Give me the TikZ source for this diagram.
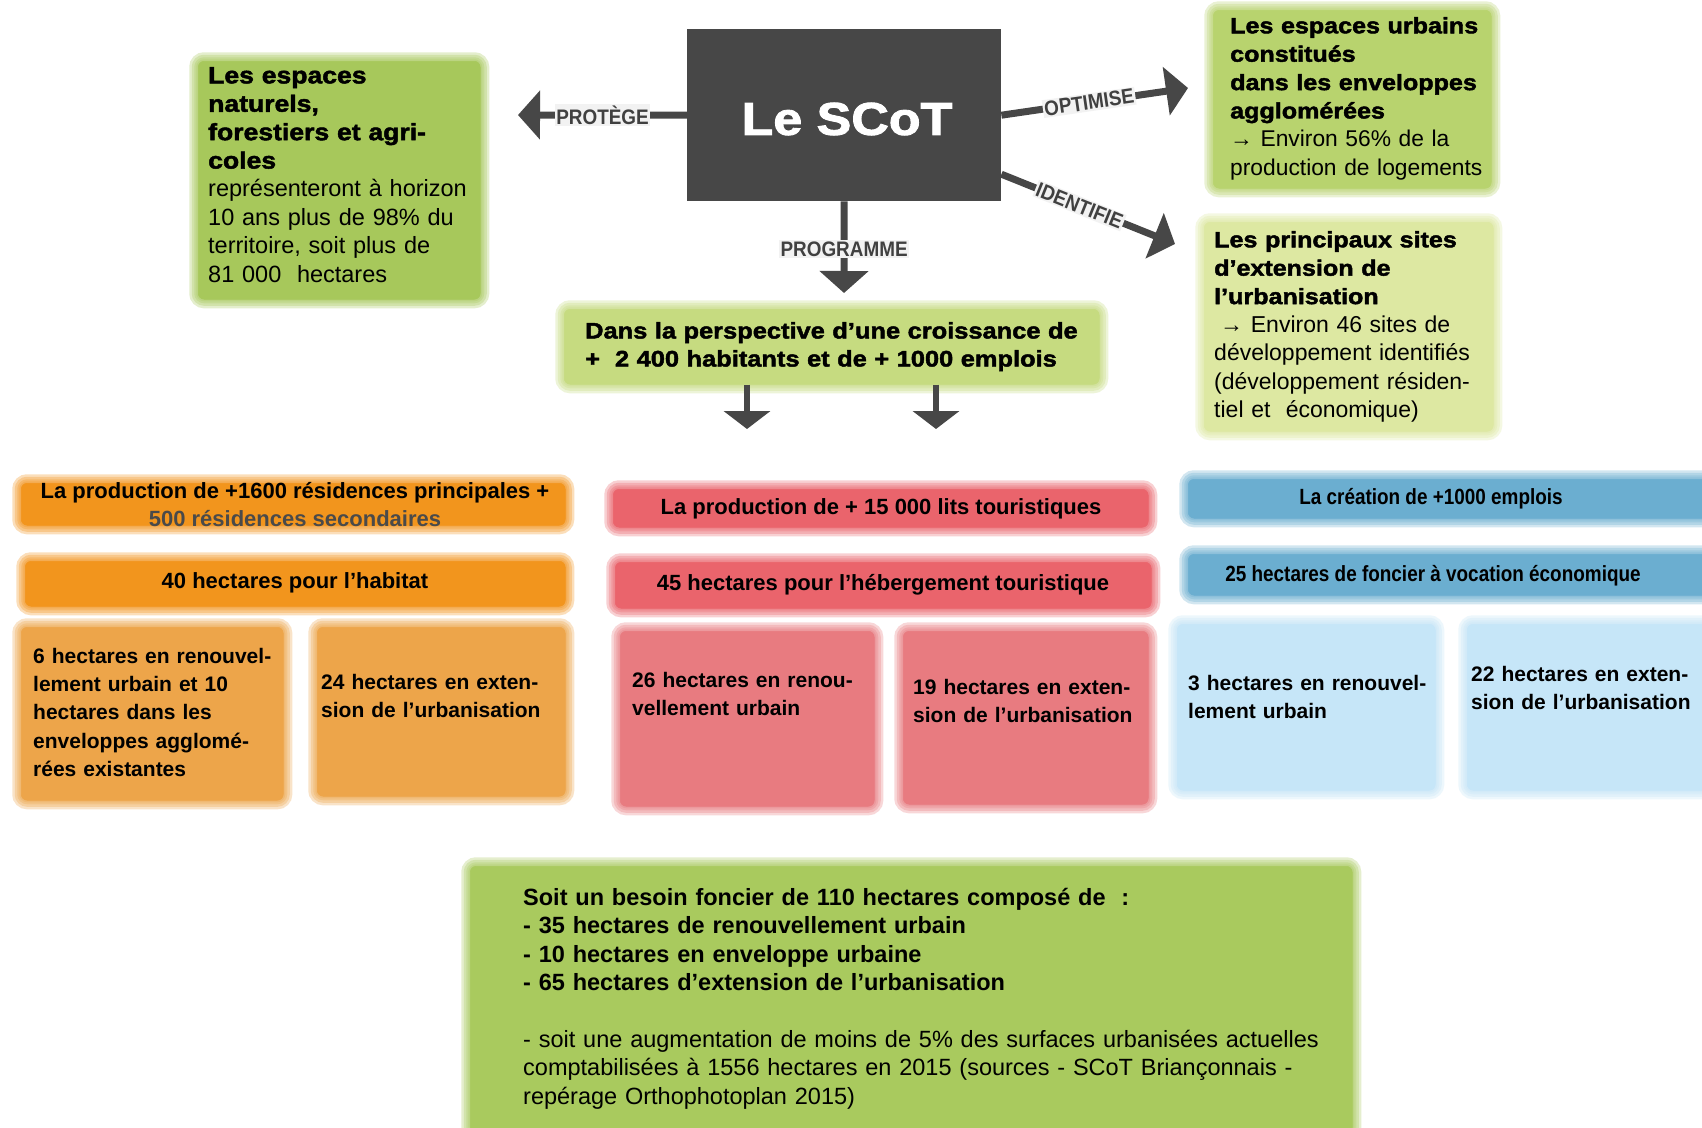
\documentclass[tikz,border=0pt]{standalone}
\usepackage{fontspec}
\setmainfont{Liberation Sans}
\newfontfamily\blk{Liberation Sans}[FakeStretch=1.13,BoldFeatures={FakeBold=2}]
\newfontfamily\nar{Liberation Sans}[FakeStretch=0.86]
\newfontfamily\lab{Liberation Sans}[FakeStretch=0.9]
\usetikzlibrary{arrows.meta}
\newcommand\setfs[2]{\fontsize{#1}{#2}\selectfont}
\definecolor{scot}{HTML}{474747}
\definecolor{grnL}{HTML}{A7C85B}
\definecolor{grnB}{HTML}{A9CA5E}
\definecolor{grnRT}{HTML}{B8D36E}
\definecolor{grnR2}{HTML}{DDE8A2}
\definecolor{grnM}{HTML}{C6DB80}
\definecolor{orH}{HTML}{F2951D}
\definecolor{orC}{HTML}{EDA54A}
\definecolor{rdH}{HTML}{EA646C}
\definecolor{rdC}{HTML}{E87B80}
\definecolor{blH}{HTML}{6BAED0}
\definecolor{blC}{HTML}{C6E6F8}
\definecolor{lblbg}{HTML}{F2F2F2}
\definecolor{lbltext}{HTML}{404040}
\definecolor{txtgray}{HTML}{4A4A4A}
\begin{document}
\begin{tikzpicture}[x=1pt,y=-1pt,
  soft/.style={fill=#1, draw=#1, line width=0.5pt, rounded corners=6pt, inner sep=0pt, anchor=north west,
    preaction={draw=#1, draw opacity=0.3, line width=18pt},
    preaction={draw=#1, draw opacity=0.3, line width=13pt},
    preaction={draw=#1, draw opacity=0.3, line width=8pt},
    preaction={draw=#1, draw opacity=0.3, line width=4pt}},
  txt/.style={anchor=north west, inner sep=0pt, align=left, text width=#1},
  arr/.style={draw=scot, line width=7pt, -{Triangle[length=22pt,width=48pt]}},
  arrsmall/.style={draw=scot, line width=6pt, -{Triangle[length=18pt,width=46pt]}},
  lbl/.style={fill=lblbg, inner sep=1.5pt, text=lbltext, font=\lab\bfseries\setfs{21}{24}},
  hdr/.style={font=\bfseries\setfs{22}{28}, align=center, inner sep=0pt},
  cell/.style={txt=#1, font=\bfseries\setfs{21}{28.2}},
]
\useasboundingbox[fill=white] (0,0) rectangle (1702,1127);

% ---------- boxes ----------
\node[soft=grnL, minimum width=282pt, minimum height=238pt] (natbox) at (198,61) {};
\node[soft=grnRT, minimum width=278pt, minimum height=178pt] (urbbox) at (1213,10) {};
\node[soft=grnR2, minimum width=289pt, minimum height=209pt] (sitbox) at (1204,222) {};
\node[soft=grnM, minimum width=535pt, minimum height=75pt] (midbox) at (564,309) {};
\node[fill=scot, minimum width=314pt, minimum height=172pt, anchor=north west, inner sep=0pt] (scot) at (687,29) {};

\node[soft=orH, minimum width=544pt, minimum height=42pt] (oh1) at (21,483) {};
\node[soft=orH, minimum width=540pt, minimum height=45pt] (oh2) at (25,561) {};
\node[soft=orC, minimum width=262pt, minimum height=173pt] (oc1) at (21,627) {};
\node[soft=orC, minimum width=248pt, minimum height=169pt] (oc2) at (317,627) {};

\node[soft=rdH, minimum width=535pt, minimum height=38pt] (rh1) at (613,489) {};
\node[soft=rdH, minimum width=536pt, minimum height=46pt] (rh2) at (615,562) {};
\node[soft=rdC, minimum width=254pt, minimum height=175pt] (rc1) at (620,631) {};
\node[soft=rdC, minimum width=245pt, minimum height=173pt] (rc2) at (903,631) {};

\node[soft=blH, minimum width=530pt, minimum height=39pt] (bh1) at (1188,479) {};
\node[soft=blH, minimum width=530pt, minimum height=41pt] (bh2) at (1188,554) {};
\node[soft=blC, minimum width=258pt, minimum height=166pt] (bc1) at (1177,624) {};
\node[soft=blC, minimum width=250pt, minimum height=166pt] (bc2) at (1467,624) {};

\node[soft=grnB, minimum width=882pt, minimum height=272pt] (botbox) at (470,866) {};

% ---------- arrows ----------
\coordinate (tipP) at (518,115);
\coordinate (tipG) at (844,293);
\coordinate (tipO) at (1188,88);
\coordinate (tipI) at (1175,244);
\coordinate (d1e) at (747,429);
\coordinate (d2e) at (936,429);

\draw[arr] (scot.west) -- node[lbl, pos=0.5] (lprot) {PROTÈGE} (tipP);
\draw[arr] (scot.south) -- node[lbl, pos=0.52] (lprog) {PROGRAMME} (tipG);
\draw[arr] (scot.east) -- node[lbl, sloped, pos=0.47] (lopt) {OPTIMISE} (tipO);
\draw[arr] ([yshift=-59pt]scot.east) -- node[lbl, sloped, pos=0.45] (lid) {IDENTIFIE} (tipI);
\draw[arrsmall] (midbox.south -| d1e) -- (d1e);
\draw[arrsmall] (midbox.south -| d2e) -- (d2e);

% ---------- texts ----------
\node[text=white, font=\blk\bfseries\setfs{46}{50}, inner sep=0pt] (scottxt) at (847,119) {Le SCoT};

\node[txt=280pt, font=\setfs{23.5}{28.4}] (nattxt) at (208,67)
  {{\blk\bfseries Les espaces\\naturels,\\forestiers et agri-\\coles}\\représenteront à horizon\\10 ans plus de 98\% du\\territoire, soit plus de\\81 000\ \ hectares};

\node[txt=270pt, font=\setfs{22.8}{28.4}] (urbtxt) at (1230,17)
  {{\blk\bfseries\setfs{22.2}{28.4}Les espaces urbains\\constitués\\dans les enveloppes\\agglomérées}\\→ Environ 56\% de la\\production de logements};

\node[txt=280pt, font=\setfs{23}{28.4}] (sittxt) at (1214,231)
  {{\blk\bfseries\setfs{22.2}{28.4}Les principaux sites\\d’extension de\\l’urbanisation}\\\hspace*{6pt}→ Environ 46 sites de\\développement identifiés\\(développement résiden-\\tiel et\ \ économique)};

\node[txt=520pt, font=\blk\bfseries\setfs{22.5}{28}] (midtxt) at (585,322)
  {Dans la perspective d’une croissance de\\+\ \ 2 400 habitants et de + 1000 emplois};

\node[hdr] (oh1t) at (295,505) {La production de +1600 résidences principales +\\\textcolor{txtgray}{500 résidences secondaires}};
\node[hdr] (oh2t) at (295,583) {40 hectares pour l’habitat};
\node[hdr] (rh1t) at (881,509) {La production de + 15 000 lits touristiques};
\node[hdr] (rh2t) at (883,585) {45 hectares pour l’hébergement touristique};
\node[hdr, font=\nar\bfseries\setfs{22}{28}] (bh1t) at (1431,499) {La création de +1000 emplois};
\node[hdr, font=\nar\bfseries\setfs{22}{28}] (bh2t) at (1433,576) {25 hectares de foncier à vocation économique};

\node[cell=250pt] (oc1t) at (33,648) {6 hectares en renouvel-\\lement urbain et 10\\hectares dans les\\enveloppes agglomé-\\rées existantes};
\node[cell=245pt] (oc2t) at (321,674) {24 hectares en exten-\\sion de l’urbanisation};
\node[cell=240pt] (rc1t) at (632,672) {26 hectares en renou-\\vellement urbain};
\node[cell=240pt] (rc2t) at (913,679) {19 hectares en exten-\\sion de l’urbanisation};
\node[cell=245pt] (bc1t) at (1188,675) {3 hectares en renouvel-\\lement urbain};
\node[cell=230pt] (bc2t) at (1471,666) {22 hectares en exten-\\sion de l’urbanisation};

\node[txt=820pt, font=\setfs{23.5}{28.4}] (bottxt) at (523,888)
  {{\bfseries Soit un besoin foncier de 110 hectares composé de\ \ :\\- 35 hectares de renouvellement urbain\\- 10 hectares en enveloppe urbaine\\- 65 hectares d’extension de l’urbanisation}\\[28.4pt]- soit une augmentation de moins de 5\% des surfaces urbanisées actuelles\\comptabilisées à 1556 hectares en 2015 (sources - SCoT Briançonnais -\\repérage Orthophotoplan 2015)};
\end{tikzpicture}
\end{document}
